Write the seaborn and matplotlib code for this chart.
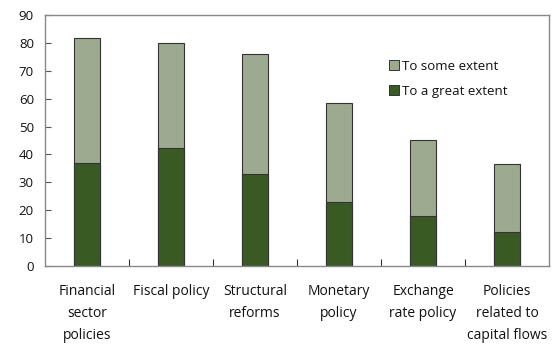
import numpy as np
import pandas as pd
import seaborn as sns
import matplotlib.pyplot as plt
from matplotlib.lines import Line2D

categories = ['Financial\nsector\npolicies', 'Fiscal policy', 'Structural\nreforms',
              'Monetary\npolicy', 'Exchange\nrate policy', 'Policies\nrelated to\ncapital flows']
great_extent = [36.8, 42.4, 33.0, 22.9, 17.9, 12.1]
some_extent_total = [81.6, 80.0, 76.0, 58.3, 45.2, 36.5]
y_ticks = [0, 10, 20, 30, 40, 50, 60, 70, 80, 90]

light = '#9cab8f'
dark = '#3a5a24'
edge = '#333333'

sns.set_style('white')
plt.rcParams['font.family'] = ['Open Sans', 'DejaVu Sans']

df = pd.DataFrame({'category': categories, 'great': great_extent, 'total': some_extent_total})

fig = plt.figure(figsize=(5.52, 3.44), dpi=100)
ax = fig.add_axes([45 / 552, 78 / 344, 504 / 552, 251 / 344])

sns.barplot(data=df, x='category', y='total', color=light, width=0.31,
            edgecolor=edge, linewidth=0.8, saturation=1, ax=ax)
sns.barplot(data=df, x='category', y='great', color=dark, width=0.31,
            edgecolor=edge, linewidth=0.8, saturation=1, ax=ax)

ax.set_xlim(-0.5, len(categories) - 0.5)
ax.set_ylim(0, 90)
ax.set_yticks(y_ticks)
ax.set_xlabel('')
ax.set_ylabel('')

# boundary ticks as major, labels at centers as minor
ax.set_xticks(np.arange(len(categories) - 1) + 0.5)
ax.set_xticklabels([])
ax.set_xticks(np.arange(len(categories)), minor=True)
ax.set_xticklabels(categories, minor=True, fontsize=10, linespacing=1.62, color='#111111')
ax.tick_params(axis='x', which='major', direction='in', length=5, width=0.8, color='#333333', bottom=True)
ax.tick_params(axis='x', which='minor', length=0, pad=13)
ax.tick_params(axis='y', direction='in', length=4, width=0.8, color='#555555', left=True,
               labelsize=9.5, pad=8, labelcolor='#111111')

for s in ax.spines.values():
    s.set_color('#888888')
    s.set_linewidth(1.0)

handles = [Line2D([], [], marker='s', linestyle='', markersize=7, markerfacecolor=light,
                  markeredgecolor=edge, markeredgewidth=0.7),
           Line2D([], [], marker='s', linestyle='', markersize=7, markerfacecolor=dark,
                  markeredgecolor=edge, markeredgewidth=0.7)]
ax.legend(handles, ['To some extent', 'To a great extent'], frameon=False, fontsize=9.5,
          labelcolor='#111111', loc='upper left', bbox_to_anchor=(0.655, 0.87),
          handletextpad=0.1, labelspacing=0.95, handlelength=1.0)

fig.savefig('out.png', dpi=100)
